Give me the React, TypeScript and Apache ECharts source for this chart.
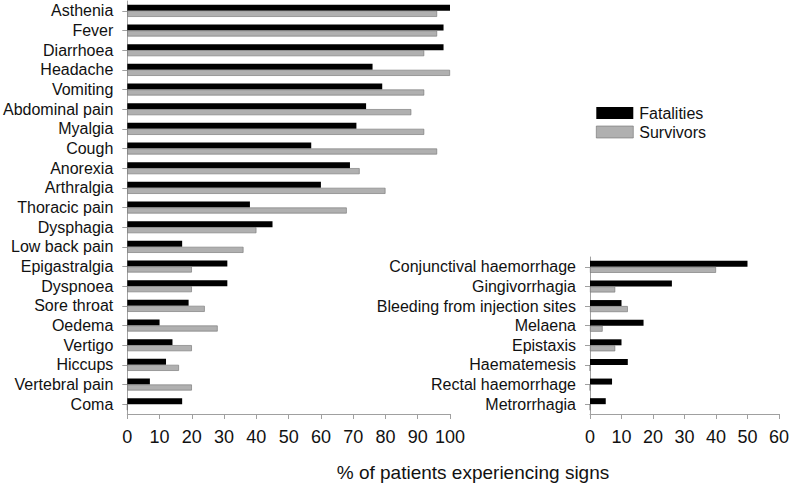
import React, { useEffect, useRef } from "react";
import * as echarts from "echarts";

const generalSigns = [
  "Asthenia", "Fever", "Diarrhoea", "Headache", "Vomiting", "Abdominal pain", "Myalgia",
  "Cough", "Anorexia", "Arthralgia", "Thoracic pain", "Dysphagia", "Low back pain",
  "Epigastralgia", "Dyspnoea", "Sore throat", "Oedema", "Vertigo", "Hiccups",
  "Vertebral pain", "Coma",
];
const generalFatalities = [100, 98, 98, 76, 79, 74, 71, 57, 69, 60, 38, 45, 17, 31, 31, 19, 10, 14, 12, 7, 17];
const generalSurvivors = [96, 96, 92, 100, 92, 88, 92, 96, 72, 80, 68, 40, 36, 20, 20, 24, 28, 20, 16, 20, 0];

const haemorrhagicSigns = [
  "Conjunctival haemorrhage", "Gingivorrhagia", "Bleeding from injection sites", "Melaena",
  "Epistaxis", "Haematemesis", "Rectal haemorrhage", "Metrorrhagia",
];
const haemFatalities = [50, 26, 10, 17, 10, 12, 7, 5];
const haemSurvivors = [40, 8, 12, 4, 8, 0, 0, 0];

const leftTicks = [0, 100, 10];
const rightTicks = [0, 60, 10];

const FONT = "Liberation Sans, Arial, sans-serif";
const AXIS = "#a0a0a0";

export default function App() {
  const ref = useRef<HTMLDivElement>(null);
  useEffect(() => {
    if (!ref.current) return;
    const chart = echarts.init(ref.current, null, { renderer: "svg" });
    const xAxisBase = (gridIndex: number, t: number[]) => ({
      type: "value",
      gridIndex,
      min: t[0],
      max: t[1],
      interval: t[2],
      axisLine: { show: true, lineStyle: { color: AXIS, width: 1 } },
      axisTick: { show: true, length: 5, lineStyle: { color: AXIS } },
      splitLine: { show: false },
      axisLabel: { fontSize: 18, color: "#111", fontFamily: FONT, margin: 14 },
    });
    const yAxisBase = (gridIndex: number, data: string[]) => ({
      type: "category",
      gridIndex,
      data,
      inverse: true,
      axisLine: { show: true, lineStyle: { color: AXIS, width: 1 } },
      axisTick: { show: true, length: 5, alignWithLabel: true, interval: 0, lineStyle: { color: AXIS } },
      axisLabel: { fontSize: 16, color: "#111", fontFamily: FONT, margin: 14, interval: 0, hideOverlap: false },
    });
    const fatStyle = { color: "#000000" };
    const survStyle = { color: "#b0b0b0", borderColor: "#707070", borderWidth: 0.6 };
    chart.setOption({
      animation: false,
      backgroundColor: "#ffffff",
      textStyle: { fontFamily: FONT },
      grid: [
        { left: 127, top: 1, width: 323, height: 413 },
        { left: 590, top: 257, width: 193, height: 157 },
      ],
      xAxis: [xAxisBase(0, leftTicks), xAxisBase(1, rightTicks)],
      yAxis: [yAxisBase(0, generalSigns), yAxisBase(1, haemorrhagicSigns)],
      legend: {
        left: 591,
        top: 100,
        orient: "vertical",
        itemWidth: 37,
        itemHeight: 12,
        itemGap: 3,
        icon: "rect",
        textStyle: { fontSize: 16, color: "#111", fontFamily: FONT, padding: [0, 0, 0, 1] },
        data: [
          { name: "Fatalities", itemStyle: fatStyle },
          { name: "Survivors", itemStyle: survStyle },
        ],
      },
      series: [
        { type: "bar", name: "Fatalities", xAxisIndex: 0, yAxisIndex: 0, data: generalFatalities, barWidth: 6, barGap: "0%", itemStyle: fatStyle },
        { type: "bar", name: "Survivors", xAxisIndex: 0, yAxisIndex: 0, data: generalSurvivors, barWidth: 6, barGap: "0%", itemStyle: survStyle },
        { type: "bar", name: "Fatalities", xAxisIndex: 1, yAxisIndex: 1, data: haemFatalities, barWidth: 6, barGap: "0%", itemStyle: fatStyle },
        { type: "bar", name: "Survivors", xAxisIndex: 1, yAxisIndex: 1, data: haemSurvivors, barWidth: 6, barGap: "0%", itemStyle: survStyle },
      ],
      graphic: [
        {
          type: "text",
          x: 473,
          y: 472,
          style: {
            text: "% of patients experiencing signs",
            fontSize: 19,
            fontFamily: FONT,
            fill: "#111",
            textAlign: "center",
            textVerticalAlign: "middle",
          },
        },
      ],
    });
    return () => chart.dispose();
  }, []);
  return (
    <div
      ref={ref}
      style={{ position: "fixed", left: 0, top: 0, width: 792, height: 484, background: "#fff" }}
    />
  );
}
